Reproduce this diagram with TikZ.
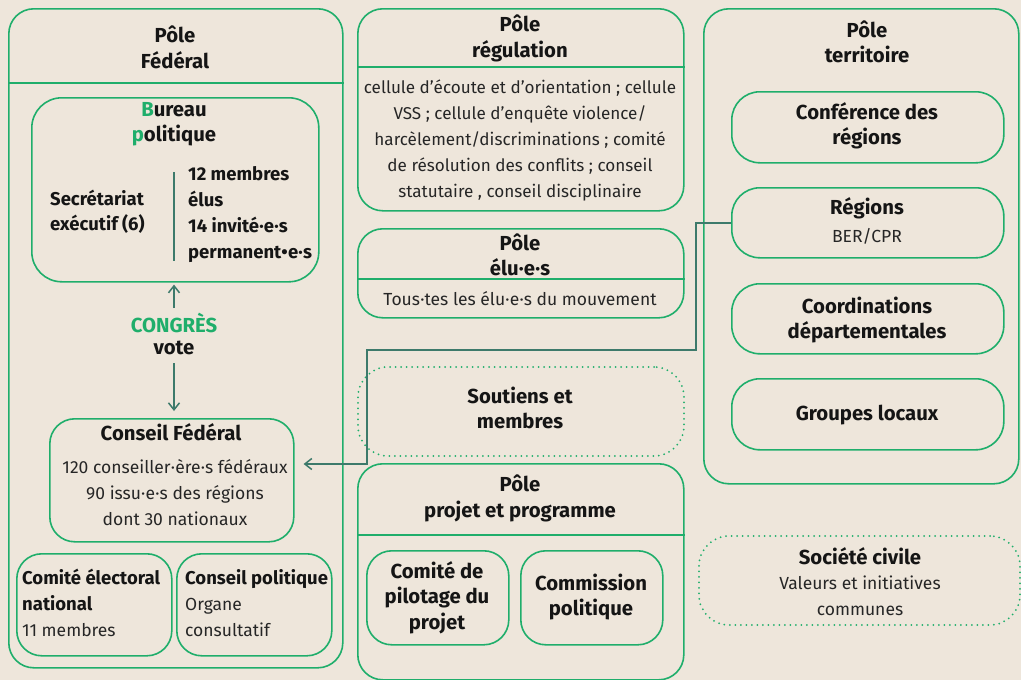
\documentclass[tikz,border=0pt]{standalone}
\usepackage{fontspec}
\setmainfont{Fira Sans}
\usetikzlibrary{arrows.meta}
\definecolor{bg}{HTML}{EEE6DB}
\definecolor{grn}{HTML}{1FAE6B}
\definecolor{tealc}{HTML}{3D7A6B}
\definecolor{ink}{HTML}{151515}
\definecolor{ink2}{HTML}{262626}
\newcommand\pd{\makebox[0.26em]{·}}
\newcommand\bu{\makebox[0.36em]{•}}
\begin{document}
\begin{tikzpicture}[x=1pt,y=-1pt,
  box/.style={draw=grn, line width=1.6pt, rounded corners=25pt, inner sep=0pt, anchor=north west},
  dbox/.style={draw=grn, line width=2pt, dash pattern=on 0pt off 5.5pt, line cap=round, rounded corners=30pt, inner sep=0pt, anchor=north west},
  ttl/.style={font=\fontsize{20.3}{25.5}\selectfont\bfseries, align=center, inner sep=0pt, text=ink},
  stl/.style={font=\fontsize{18.5}{26}\selectfont\bfseries, inner sep=0pt, text=ink},
  txt/.style={font=\fontsize{17.5}{26}\selectfont, align=center, inner sep=0pt, text=ink2},
  hline/.style={draw=grn, line width=1.6pt},
  conn/.style={draw=tealc, line width=1.5pt},
  tip/.style={-{Straight Barb[length=7pt,width=11pt]}}
]
\fill[bg] (0,0) rectangle (1021,680);
\useasboundingbox (0,0) rectangle (1021,680);

% ---------- Pole federal
\node[box, minimum width=334pt, minimum height=659pt] (pf) at (8,8) {};
\draw[hline] ([yshift=-75pt]pf.north west) -- ([yshift=-75pt]pf.north east);
\node[ttl] (tpf) at (175,47.5) {Pôle\\Fédéral};

\node[box, rounded corners=30pt, minimum width=287pt, minimum height=184pt] (bp) at (31,97) {};
\node[ttl] (tbp) at (174,124) {{\color{grn}B}ureau\\{\color{grn}p}olitique};
\node[stl, anchor=west, align=left, font=\fontsize{18.5}{25}\selectfont\bfseries] (tsec) at (50,212) {Secrétariat\\exécutif (6)};
\node[stl, anchor=west, align=left] (tmem) at (188,214.5) {12 membres\\élus\\14 invité\pd e\pd s\\permanent\bu e\pd s};
\coordinate (v1) at (174,172);
\coordinate (v2) at (174,261);
\draw[conn] (v1) -- (v2);

\node[ttl, font=\fontsize{20.3}{22}\selectfont\bfseries] (cong) at (174,334) {{\color{grn}CONGRÈS}\\vote};
\node[box, minimum width=244pt, minimum height=123pt] (cf) at (49,418) {};
\coordinate (a1) at (174,308);
\coordinate (a2) at (174,363);
\draw[conn, tip, shorten >=2pt] (a1) -- (a1 |- bp.south);
\draw[conn, tip, shorten >=7pt] (a2) -- (a2 |- cf.north);
\node[ttl] (tcf) at (171,432) {Conseil Fédéral};
\node[txt] (tcfb) at (175,492.5) {120 conseiller\pd ère\pd s fédéraux\\90 issu\pd e\pd s des régions\\dont 30 nationaux};

\node[box, minimum width=155pt, minimum height=102pt] (cen) at (16,553) {};
\node[box, minimum width=155pt, minimum height=102pt] (cpol) at (176,553) {};
\node[txt, anchor=west, align=left] (tcen) at (22,603) {{\fontsize{18.5}{26}\selectfont\bfseries\color{ink}Comité électoral}\\{\fontsize{18.5}{26}\selectfont\bfseries\color{ink}national}\\11 membres};
\node[txt, anchor=west, align=left] (tcpol) at (185,603) {{\fontsize{18.5}{26}\selectfont\bfseries\color{ink}Conseil politique}\\Organe\\consultatif};

% ---------- Pole regulation
\node[box, minimum width=326pt, minimum height=202pt] (preg) at (357,8) {};
\draw[hline] ([yshift=-59pt]preg.north west) -- ([yshift=-59pt]preg.north east);
\node[ttl] (tpreg) at (520,38.5) {Pôle\\régulation};
\node[txt, font=\fontsize{17.1}{26}\selectfont] (treg) at (520,140) {cellule d’écoute et d’orientation ; cellule\\VSS ; cellule d’enquête violence/\\harcèlement/discriminations ; comité\\de résolution des conflits ; conseil\\statutaire , conseil disciplinaire};

% ---------- Pole elu.e.s
\node[box, minimum width=326pt, minimum height=89pt] (pelu) at (357,228) {};
\draw[hline] ([yshift=-51pt]pelu.north west) -- ([yshift=-51pt]pelu.north east);
\node[ttl] (tpelu) at (520,255) {Pôle\\élu\pd e\pd s};
\node[txt] (telu) at (520,299) {Tous\pd tes les élu\pd e\pd s du mouvement};

% ---------- Soutiens
\node[dbox, minimum width=326pt, minimum height=89pt] (sout) at (357,366) {};
\node[ttl] (tsout) at (520,408) {Soutiens et\\membres};

% ---------- Pole projet
\node[box, minimum width=326pt, minimum height=216pt] (pproj) at (357,463) {};
\draw[hline] ([yshift=-72pt]pproj.north west) -- ([yshift=-72pt]pproj.north east);
\node[ttl] (tpproj) at (520,498.5) {Pôle\\projet et programme};
\node[box, minimum width=142pt, minimum height=94pt] (cpil) at (366,550) {};
\node[box, minimum width=142pt, minimum height=94pt] (comm) at (520,550) {};
\node[ttl] (tcpil) at (437,597.5) {Comité de\\pilotage du\\projet};
\node[ttl] (tcomm) at (591,597) {Commission\\politique};

% ---------- Pole territoire
\node[box, minimum width=315pt, minimum height=475pt] (pter) at (703,8) {};
\node[ttl] (tpter) at (867,42) {Pôle\\territoire};
\node[box, rounded corners=28pt, minimum width=272pt, minimum height=71pt] (conf) at (731,91) {};
\node[ttl] (tconf) at (867,126) {Conférence des\\régions};
\node[box, rounded corners=28pt, minimum width=272pt, minimum height=70pt] (reg) at (731,187) {};
\node[ttl] (treg1) at (867,208) {Régions};
\node[txt] (treg2) at (867,236) {BER/CPR};
\node[box, rounded corners=28pt, minimum width=272pt, minimum height=70pt] (coord) at (731,283) {};
\node[ttl] (tcoord) at (867,320) {Coordinations\\départementales};
\node[box, rounded corners=28pt, minimum width=272pt, minimum height=71pt] (grp) at (731,378) {};
\node[ttl] (tgrp) at (867,415) {Groupes locaux};

% ---------- Societe civile
\node[dbox, minimum width=321pt, minimum height=89pt] (soc) at (698,535) {};
\node[ttl] (tsoc1) at (860,556) {Société civile};
\node[txt] (tsoc2) at (860,595.5) {Valeurs et initiatives\\communes};

% ---------- connector regions -> conseil federal
\coordinate (k1) at (696,350);
\coordinate (k2) at (367,464);
\coordinate (k3) at (k2 -| cf.east);
\draw[conn, tip] (reg.west) -| (k1) -| (k2) -- ([xshift=9pt]k3);
\end{tikzpicture}
\end{document}
